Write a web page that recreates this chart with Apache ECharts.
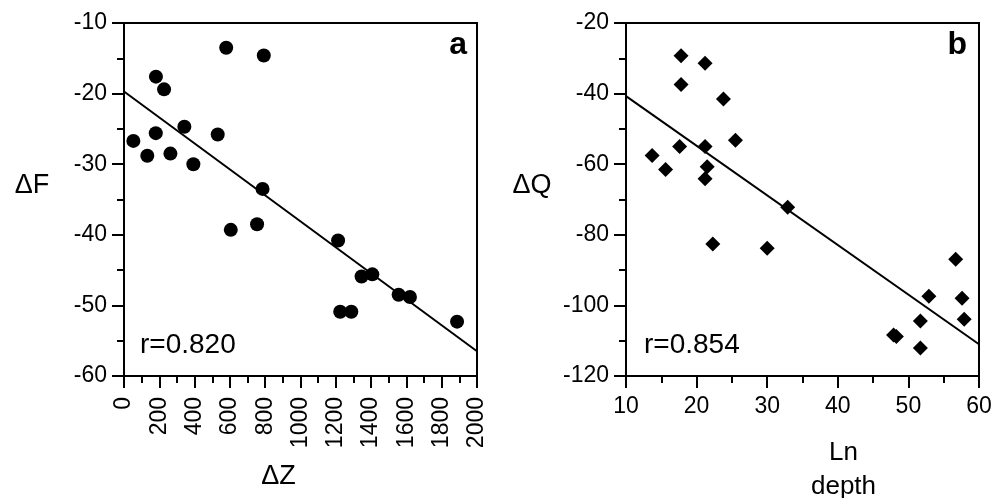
<!DOCTYPE html>
<html>
<head>
<meta charset="utf-8">
<script src="https://cdn.jsdelivr.net/npm/echarts@6/dist/echarts.min.js"></script>
<style>
html,body{margin:0;padding:0;background:#fff;}
#chart{width:1003px;height:498px;}
</style>
</head>
<body>
<div id="chart"></div>
<script>
// Panel a: ΔF vs ΔZ
var dzA = [53,132,181,180,227,263,342,393,531,579,605,754,785,792,1213,1225,1288,1346,1407,1556,1620,1887];
var dfA = [-26.7,-28.8,-17.6,-25.6,-19.4,-28.5,-24.7,-30.0,-25.8,-13.5,-39.3,-38.5,-33.5,-14.6,-40.8,-50.9,-50.9,-45.9,-45.6,-48.5,-48.8,-52.3];
var fitAx = [0, 2000];
var fitAy = [-19.7, -56.5];
var rA = 'r=0.820';

// Panel b: ΔQ vs Ln depth
var lnB = [17.8,21.2,17.8,23.8,25.5,17.6,21.2,13.7,15.6,21.5,21.2,32.9,22.3,30.0,56.7,52.9,57.6,51.7,57.9,47.9,48.3,51.7];
var dqB = [-29.3,-31.4,-37.4,-41.5,-53.2,-55.0,-55.0,-57.5,-61.5,-60.7,-64.1,-72.2,-82.6,-83.8,-86.9,-97.4,-98.0,-104.4,-103.9,-108.4,-108.8,-112.1];
var fitBx = [10, 60];
var fitBy = [-40.7, -111.0];
var rB = 'r=0.854';

function pairs(xs, ys){ return xs.map(function(x,i){ return [x, ys[i]]; }); }
function plain(v){ return String(v); }

var FONT = '"Liberation Sans", Arial, Helvetica, sans-serif';
var black = '#000';

function axisCommon(){
  return {
    axisLine:{show:true, onZero:false, lineStyle:{color:black, width:2}},
    axisTick:{show:true, inside:false, length:12, lineStyle:{color:black, width:2}},
    minorTick:{show:true, splitNumber:2, length:7, lineStyle:{color:black, width:2}},
    splitLine:{show:false},
    minorSplitLine:{show:false}
  };
}

var chart = echarts.init(document.getElementById('chart'), null, {renderer:'canvas'});

var xa = Object.assign(axisCommon(), {
  type:'value', gridIndex:0, min:0, max:2000, interval:200,
  name:'ΔZ', nameLocation:'middle', nameGap:101,
  nameTextStyle:{fontFamily:FONT, fontSize:27, color:black, align:'center', verticalAlign:'middle', padding:[0,44,0,0]},
  axisLabel:{rotate:90, margin:21, fontFamily:FONT, fontSize:23, color:black, formatter:plain}
});
var ya = Object.assign(axisCommon(), {
  type:'value', gridIndex:0, min:-60, max:-10, interval:10,
  name:'ΔF', nameLocation:'middle', nameGap:92, nameRotate:0,
  nameTextStyle:{fontFamily:FONT, fontSize:27, color:black, align:'center', verticalAlign:'bottom'},
  axisLabel:{margin:17, fontFamily:FONT, fontSize:23, color:black, formatter:plain}
});
var xb = Object.assign(axisCommon(), {
  type:'value', gridIndex:1, min:10, max:60, interval:10,
  name:'Ln\ndepth', nameLocation:'middle', nameGap:60,
  nameTextStyle:{fontFamily:FONT, fontSize:26, lineHeight:34, color:black, align:'center', verticalAlign:'top', padding:[0,0,0,82]},
  axisLabel:{margin:19, fontFamily:FONT, fontSize:23, color:black, formatter:plain}
});
var yb = Object.assign(axisCommon(), {
  type:'value', gridIndex:1, min:-120, max:-20, interval:20,
  name:'ΔQ', nameLocation:'middle', nameGap:94, nameRotate:0,
  nameTextStyle:{fontFamily:FONT, fontSize:27, color:black, align:'center', verticalAlign:'bottom'},
  axisLabel:{margin:17, fontFamily:FONT, fontSize:23, color:black, formatter:plain}
});

chart.setOption({
  animation:false,
  backgroundColor:'#fff',
  grid:[
    {left:124, top:23, width:353, height:353, show:true, borderColor:black, borderWidth:2, backgroundColor:'transparent', containLabel:false, outerBoundsMode:'none'},
    {left:626, top:23, width:353, height:353, show:true, borderColor:black, borderWidth:2, backgroundColor:'transparent', containLabel:false, outerBoundsMode:'none'}
  ],
  xAxis:[xa, xb],
  yAxis:[ya, yb],
  series:[
    {type:'line', xAxisIndex:0, yAxisIndex:0, data:pairs(fitAx, fitAy), symbol:'none', lineStyle:{color:black, width:2}, z:2},
    {type:'scatter', xAxisIndex:0, yAxisIndex:0, data:pairs(dzA, dfA), symbol:'circle', symbolSize:14, itemStyle:{color:black, opacity:1}, z:3},
    {type:'line', xAxisIndex:1, yAxisIndex:1, data:pairs(fitBx, fitBy), symbol:'none', lineStyle:{color:black, width:2}, z:2},
    {type:'scatter', xAxisIndex:1, yAxisIndex:1, data:pairs(lnB, dqB), symbol:'diamond', symbolSize:15, itemStyle:{color:black, opacity:1}, z:3}
  ],
  graphic:[
    {type:'text', left:140, top:331, style:{text:rA, font:'28px ' + FONT, fill:black}},
    {type:'text', left:644, top:331, style:{text:rB, font:'28px ' + FONT, fill:black}},
    {type:'text', right:536, top:29, style:{text:'a', font:'bold 32px ' + FONT, fill:black}},
    {type:'text', right:36, top:29, style:{text:'b', font:'bold 32px ' + FONT, fill:black}}
  ]
});
</script>
</body>
</html>
